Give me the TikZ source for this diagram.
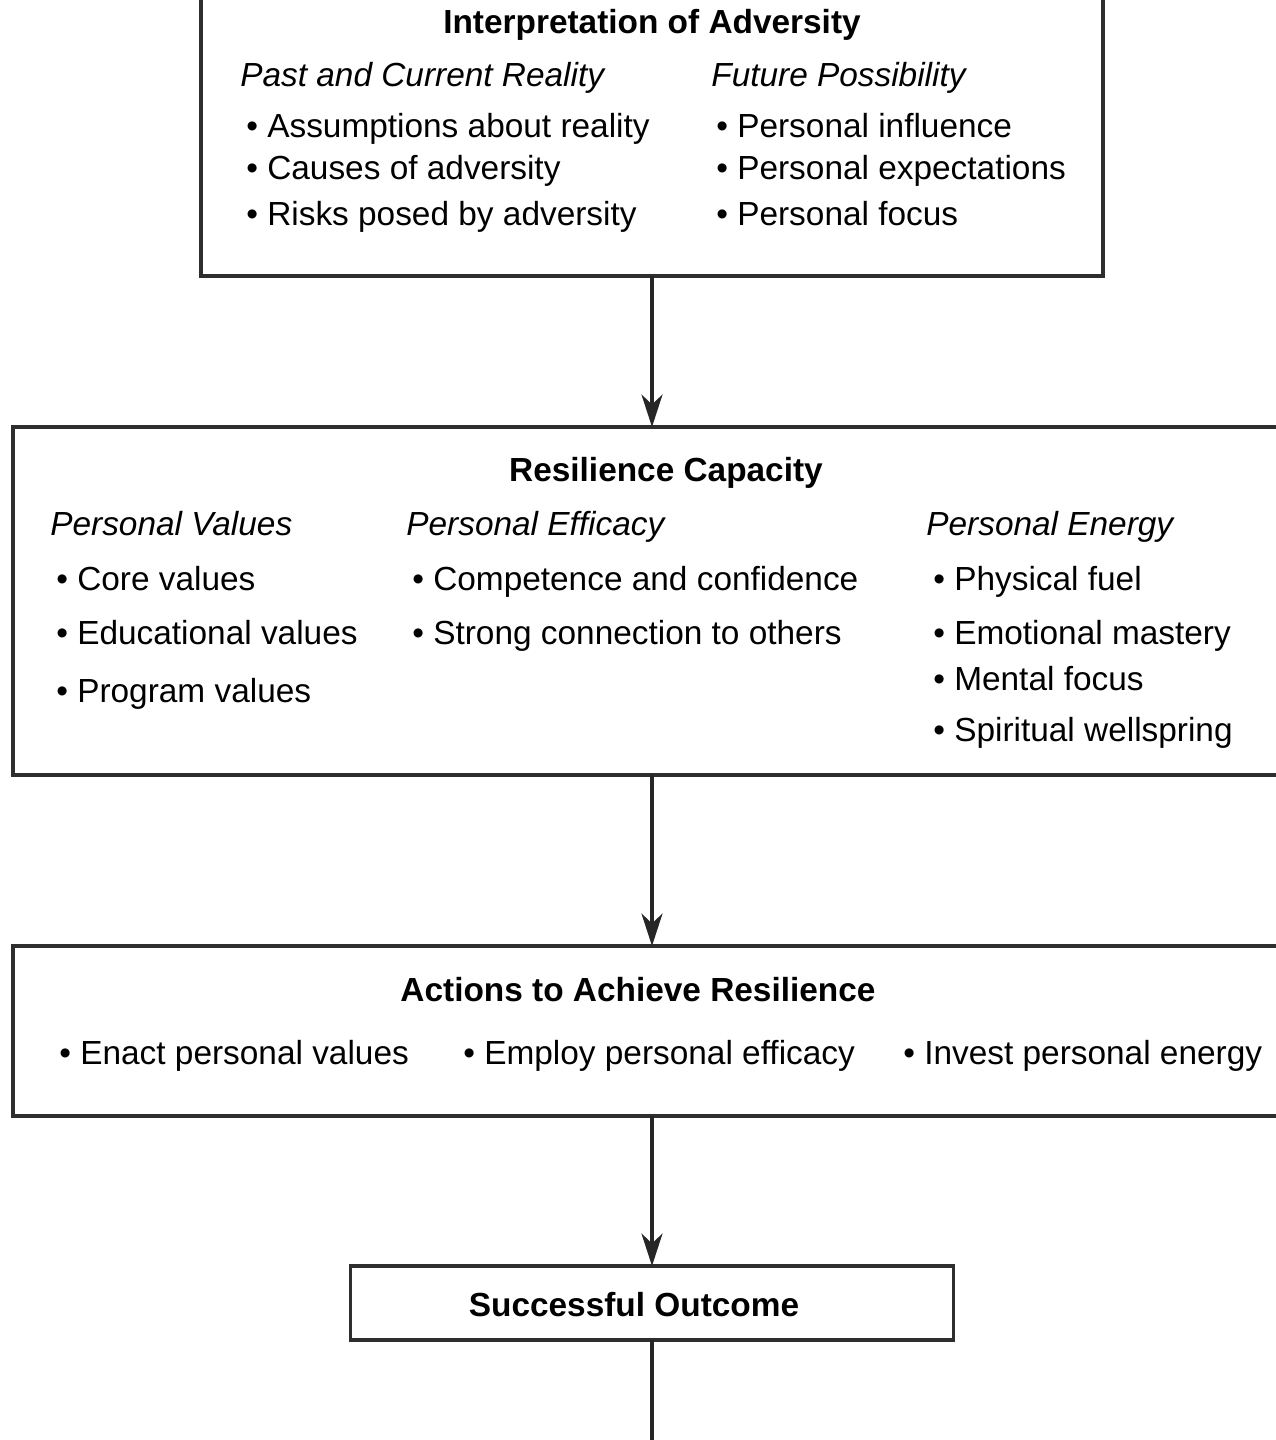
\documentclass[tikz,border=0pt]{standalone}
\usepackage{fontspec}
\setmainfont{Liberation Sans}
\usetikzlibrary{arrows.meta,positioning}
\tikzset{
  >={Stealth[length=6.5mm, width=4.2mm, inset=2mm]},
  box/.style={draw=black!82, line width=2pt, outer sep=0pt, inner sep=0pt},
  head/.style={anchor=base, inner sep=0pt, font=\fontsize{19}{23}\selectfont\bfseries},
  sub/.style={anchor=base west, inner sep=0pt, font=\fontsize{19}{23}\selectfont\itshape},
  item/.style={anchor=base west, inner sep=0pt, font=\fontsize{19}{23}\selectfont},
  flow/.style={->, draw=black!85, line width=1.9pt},
}
\begin{document}
\begin{tikzpicture}
  \clip (0,0) rectangle (25.52,-28.8);
  % boxes
  \node[box, minimum width=18.04cm, minimum height=5.72cm] (interp) at (13.04,-2.66) {};
  \node[box, minimum width=25.56cm, minimum height=6.96cm] (capacity) at (13.04,-12.02) {};
  \node[box, minimum width=25.56cm, minimum height=3.4cm] (actions) at (13.04,-20.62) {};
  \node[box, minimum width=12.06cm, minimum height=1.48cm] (outcome) at (13.04,-26.06) {};
  \coordinate (exit) at (13.04,-29.2);
  % interpretation of adversity
  \node[head] (interpT) at (13.04,-0.66) {Interpretation of Adversity};
  \node[sub] (past) at (4.80,-1.72) {Past and Current Reality};
  \node[sub] (future) at (14.22,-1.72) {Future Possibility};
  \node[item] (p1) at (4.92,-2.74) {• Assumptions about reality};
  \node[item] (p2) at (4.92,-3.58) {• Causes of adversity};
  \node[item] (p3) at (4.92,-4.50) {• Risks posed by adversity};
  \node[item] (f1) at (14.32,-2.74) {• Personal influence};
  \node[item] (f2) at (14.32,-3.58) {• Personal expectations};
  \node[item] (f3) at (14.32,-4.50) {• Personal focus};
  % resilience capacity
  \node[head] (capT) at (13.32,-9.62) {Resilience Capacity};
  \node[sub] (values) at (1.00,-10.70) {Personal Values};
  \node[sub] (efficacy) at (8.12,-10.70) {Personal Efficacy};
  \node[sub] (energy) at (18.52,-10.70) {Personal Energy};
  \node[item] (v1) at (1.12,-11.80) {• Core values};
  \node[item] (v2) at (1.12,-12.88) {• Educational values};
  \node[item] (v3) at (1.12,-14.04) {• Program values};
  \node[item] (e1) at (8.24,-11.80) {• Competence and confidence};
  \node[item] (e2) at (8.24,-12.88) {• Strong connection to others};
  \node[item] (n1) at (18.66,-11.80) {• Physical fuel};
  \node[item] (n2) at (18.66,-12.88) {• Emotional mastery};
  \node[item] (n3) at (18.66,-13.80) {• Mental focus};
  \node[item] (n4) at (18.66,-14.82) {• Spiritual wellspring};
  % actions
  \node[head] (actT) at (12.76,-20.02) {Actions to Achieve Resilience};
  \node[item] (a1) at (1.18,-21.28) {• Enact personal values};
  \node[item] (a2) at (9.26,-21.28) {• Employ personal efficacy};
  \node[item] (a3) at (18.06,-21.28) {• Invest personal energy};
  % outcome
  \node[head] (outT) at (12.68,-26.32) {Successful Outcome};
  % connectors
  \draw[flow] (interp.south) -- (capacity.north);
  \draw[flow] (capacity.south) -- (actions.north);
  \draw[flow] (actions.south) -- (outcome.north);
  \draw[draw=black!85, line width=1.9pt] (outcome.south) -- (exit);
\end{tikzpicture}
\end{document}
